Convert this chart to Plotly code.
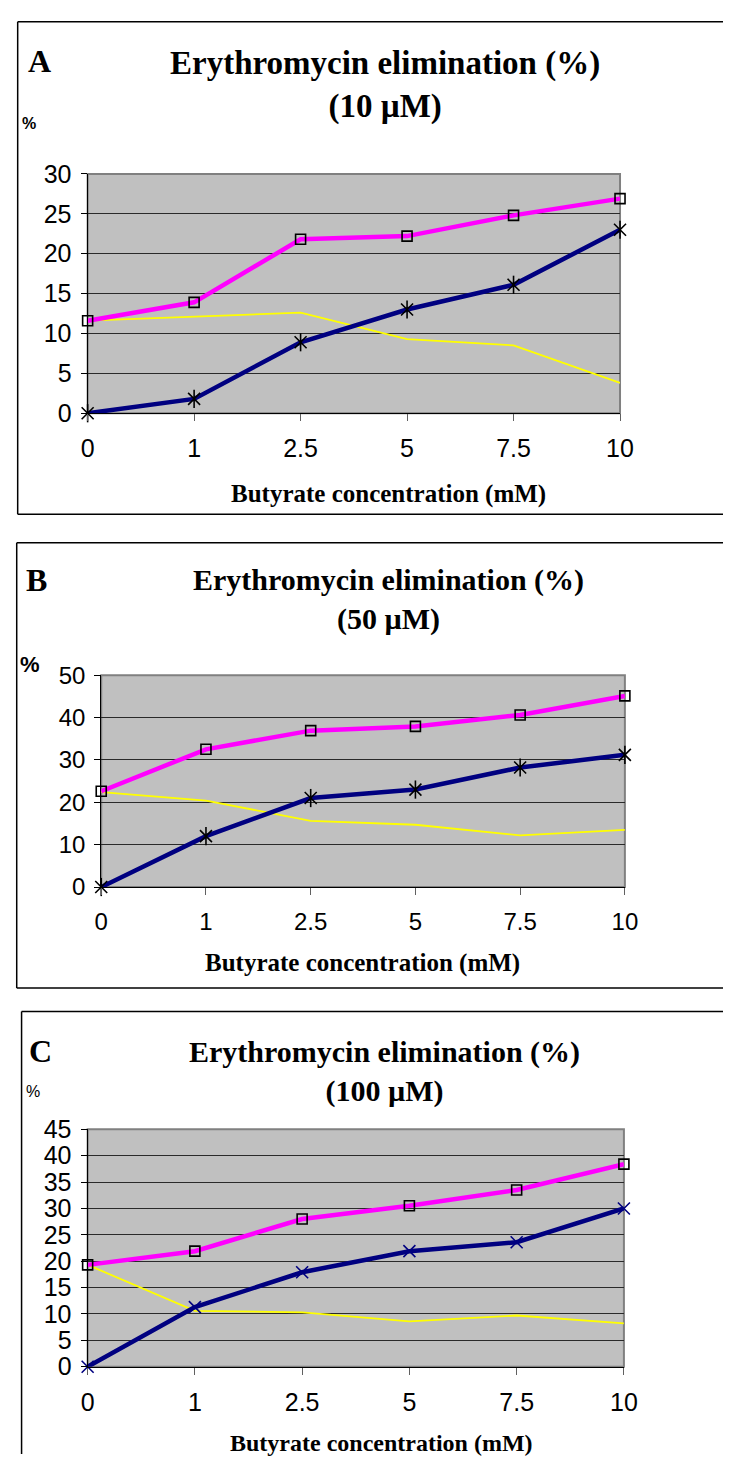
import plotly.graph_objects as go

W, H = 737, 1468

# ---- data ----
butyrate = ["0", "1", "2.5", "5", "7.5", "10"]

a_magenta = [11.6, 13.9, 21.8, 22.2, 24.8, 26.9]
a_navy = [0.0, 1.8, 8.9, 13.0, 16.1, 23.0]
a_yellow = [11.6, 12.1, 12.6, 9.3, 8.5, 3.8]

b_magenta = [22.6, 32.5, 36.9, 37.9, 40.6, 45.1]
b_navy = [0.0, 12.0, 21.0, 23.0, 28.2, 31.2]
b_yellow = [22.4, 20.4, 15.6, 14.7, 12.2, 13.5]

c_magenta = [19.3, 21.9, 28.0, 30.5, 33.5, 38.4]
c_navy = [0.0, 11.3, 17.9, 21.9, 23.6, 30.0]
c_yellow = [19.3, 10.6, 10.3, 8.6, 9.7, 8.2]

titles = ["Erythromycin elimination (%)<br>(10 µM)",
          "Erythromycin elimination (%)<br>(50 µM)",
          "Erythromycin elimination (%)<br>(100 µM)"]
letters = ["A", "B", "C"]
xtitle = "Butyrate concentration (mM)"


def px(x):
    return x / W


def py(y):
    return 1 - y / H


panels = [
    dict(data=(a_magenta, a_navy, a_yellow), rng=[0, 30], dtick=5,
         plot=(83, 631, 163, 407), frame=[(11, 8, 737, 8), (11, 8, 11, 510), (11, 510, 737, 510)],
         title_xy=(389, 72), title_size=33, letter_xy=(33, 48), letter_size=32,
         pct_xy=(23, 112), pct_size=16, pct_bold=True,
         xt_xy=(393, 489), xt_size=25, tick_size=25, star=True, navy_marker_color="black"),
    dict(data=(b_magenta, b_navy, b_yellow), rng=[0, 50], dtick=10,
         plot=(97, 636, 674, 890), frame=[(10, 539, 737, 539), (10, 539, 10, 993), (10, 993, 737, 993)],
         title_xy=(393, 597), title_size=30, letter_xy=(30, 577), letter_size=32,
         pct_xy=(24, 663), pct_size=22, pct_bold=True,
         xt_xy=(366, 967), xt_size=25, tick_size=24, star=True, navy_marker_color="black"),
    dict(data=(c_magenta, c_navy, c_yellow), rng=[0, 45], dtick=5,
         plot=(83, 635, 1137, 1379), frame=[(15, 1017, 737, 1017), (15, 1017, 15, 1468)],
         title_xy=(389, 1078), title_size=30, letter_xy=(34, 1057), letter_size=32,
         pct_xy=(27, 1098), pct_size=16, pct_bold=False,
         xt_xy=(385, 1457), xt_size=24, tick_size=25, star=False, navy_marker_color="#000080"),
]

fig = go.Figure()
shapes = []
annotations = []
layout = {}

for i, p in enumerate(panels):
    n = i + 1
    xa = "x" if n == 1 else f"x{n}"
    ya = "y" if n == 1 else f"y{n}"
    xk = "xaxis" if n == 1 else f"xaxis{n}"
    yk = "yaxis" if n == 1 else f"yaxis{n}"
    l, r, t, b = p["plot"]
    mag, navy, yel = p["data"]

    fig.add_trace(go.Scatter(x=butyrate, y=yel, mode="lines", xaxis=xa, yaxis=ya,
                             line=dict(color="#FFFF00", width=1.8), cliponaxis=False,
                             showlegend=False, name="series 3"))
    fig.add_trace(go.Scatter(x=butyrate, y=mag, mode="lines+markers", xaxis=xa, yaxis=ya,
                             line=dict(color="#FF00FF", width=4.5),
                             marker=dict(symbol="square-open", size=10, color="black",
                                         line=dict(width=1.6)),
                             cliponaxis=False, showlegend=False, name="series 1"))
    fig.add_trace(go.Scatter(x=butyrate, y=navy, mode="lines+markers", xaxis=xa, yaxis=ya,
                             line=dict(color="#000080", width=4.5),
                             marker=dict(symbol="x-thin-open", size=12, color=p["navy_marker_color"],
                                         line=dict(width=1.6, color=p["navy_marker_color"])),
                             cliponaxis=False, showlegend=False, name="series 2"))
    if p["star"]:
        fig.add_trace(go.Scatter(x=butyrate, y=navy, mode="markers", xaxis=xa, yaxis=ya,
                                 marker=dict(symbol="line-ns-open", size=13, color="black",
                                             line=dict(width=1.6, color="black")),
                                 cliponaxis=False, showlegend=False, hoverinfo="skip"))

    layout[xk] = dict(domain=[px(l), px(r)], anchor=ya, type="category",
                      range=[0, 5], showgrid=False, showline=True, linecolor="black",
                      linewidth=1.2, ticks="outside", ticklen=7, tickcolor="#606060",
                      tickwidth=1.2, ticklabelstandoff=6,
                      tickfont=dict(family="Liberation Sans", size=p["tick_size"], color="black"),
                      fixedrange=True)
    layout[yk] = dict(domain=[py(b), py(t)], anchor=xa, range=p["rng"], dtick=p["dtick"],
                      showgrid=True, gridcolor="#2a2a2a", gridwidth=1.3, zeroline=False,
                      showline=True, linecolor="black", linewidth=1.2, ticks="outside",
                      ticklen=6, tickcolor="black", tickwidth=1.2, ticklabelstandoff=4,
                      tickfont=dict(family="Liberation Sans", size=p["tick_size"], color="black"),
                      fixedrange=True)

    # plot area background with grey top/right border
    shapes.append(dict(type="rect", xref=f"{xa} domain", yref=f"{ya} domain",
                       x0=0, x1=1, y0=0, y1=1, fillcolor="#C0C0C0",
                       line=dict(color="#808080", width=2), layer="below"))
    # panel frame (open where it runs off the page)
    for (x0, y0, x1, y1) in p["frame"]:
        shapes.append(dict(type="line", xref="paper", yref="paper",
                           x0=px(x0), x1=px(x1), y0=py(y0), y1=py(y1),
                           line=dict(color="black", width=1.5)))

    tx, ty = p["title_xy"]
    annotations.append(dict(text=f"<b>{titles[i]}</b>", xref="paper", yref="paper",
                            x=px(tx), y=py(ty), xanchor="center", yanchor="middle",
                            showarrow=False, align="center",
                            font=dict(family="Liberation Serif", size=p["title_size"], color="black")))
    lx, ly = p["letter_xy"]
    annotations.append(dict(text=f"<b>{letters[i]}</b>", xref="paper", yref="paper",
                            x=px(lx), y=py(ly), xanchor="center", yanchor="middle",
                            showarrow=False,
                            font=dict(family="Liberation Serif", size=p["letter_size"], color="black")))
    cx, cy = p["pct_xy"]
    pct = "<b>%</b>" if p["pct_bold"] else "%"
    annotations.append(dict(text=pct, xref="paper", yref="paper",
                            x=px(cx), y=py(cy), xanchor="center", yanchor="middle",
                            showarrow=False,
                            font=dict(family="Liberation Sans", size=p["pct_size"], color="black")))
    xx, xy = p["xt_xy"]
    annotations.append(dict(text=f"<b>{xtitle}</b>", xref="paper", yref="paper",
                            x=px(xx), y=py(xy), xanchor="center", yanchor="middle",
                            showarrow=False,
                            font=dict(family="Liberation Serif", size=p["xt_size"], color="black")))

fig.update_layout(width=W, height=H, margin=dict(l=0, r=0, t=0, b=0),
                  paper_bgcolor="white", plot_bgcolor="rgba(0,0,0,0)",
                  shapes=shapes, annotations=annotations, showlegend=False, **layout)

fig.write_html("out.html", include_plotlyjs=True, config={"displayModeBar": False},
               post_script="document.body.style.margin='0px';document.body.style.overflow='hidden';")
